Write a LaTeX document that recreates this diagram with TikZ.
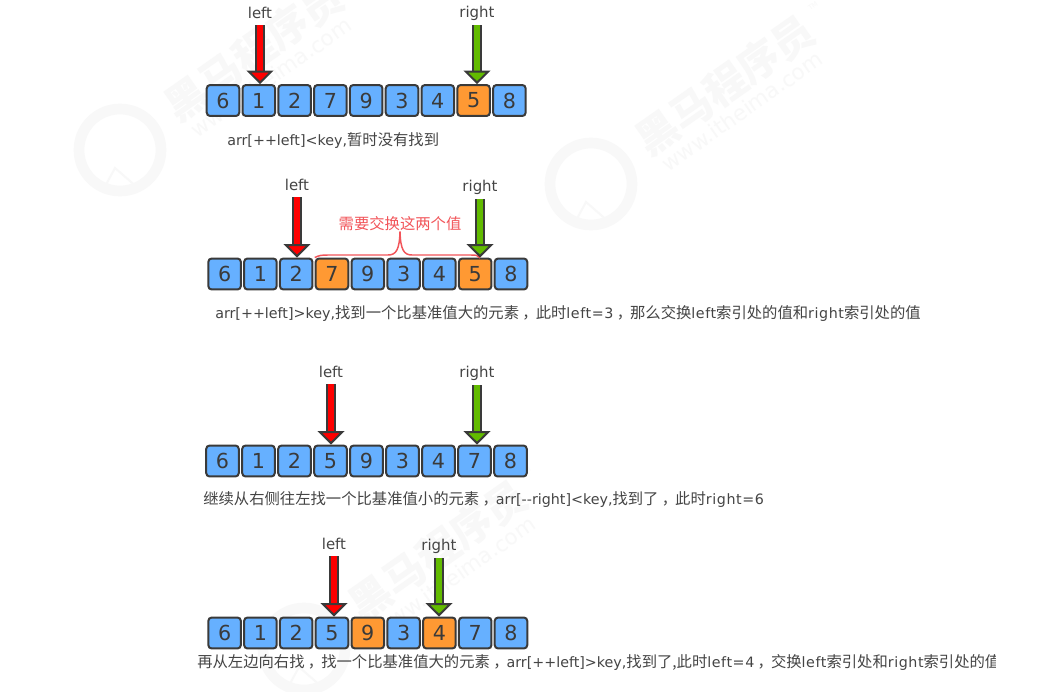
\documentclass[tikz,border=0pt]{standalone}
\usepackage{fontspec}
\setmainfont{DejaVu Sans}
\newfontfamily\cjkfont{Noto Sans CJK SC}
\newfontfamily\spacedfont[LetterSpace=4]{DejaVu Sans}
\newcommand{\zh}[1]{{\cjkfont\fontsize{11.5}{14}\selectfont #1}}
\newcommand{\zhcomma}{\kern2.5pt\zh{，}\kern-1.5pt}
\newcommand{\wide}[1]{{\spacedfont #1}}
\usetikzlibrary{arrows.meta,positioning,calc}
\definecolor{cellblue}{HTML}{66B0FF}
\definecolor{cellorange}{HTML}{FF9933}
\definecolor{edgegray}{HTML}{3A3A3A}
\definecolor{textgray}{HTML}{444444}
\definecolor{notered}{HTML}{F2555A}
\definecolor{markgray}{HTML}{F8F8F8}
\definecolor{pointergreen}{HTML}{62BB00}
\newcommand{\watermark}[2]{%
  \begin{scope}[shift={(#1,#2)},markgray]
    \draw[line width=8pt] (0,0) circle (41);
    \draw[line width=1.5pt] (-18,42) -- (-5,18) -- (18,38);
    \node[rotate=35,font=\cjkfont\bfseries\fontsize{31}{32}\selectfont] (mark-name-#1) at (134,-99) {黑马程序员};
    \node[rotate=35,font=\fontsize{16}{18}\selectfont] (mark-url-#1) at (151,-73) {www.itheima.com};
    \node[rotate=35,font=\fontsize{5}{6}\selectfont] (mark-tm-#1) at (222,-178) {TM};
  \end{scope}}

\begin{document}
\begin{tikzpicture}[x=.75pt,y=-.75pt,
  cell/.style={draw=edgegray,line width=1.5pt,rounded corners=2.5pt,fill=cellblue,
    minimum width=24.4pt,minimum height=23.2pt,inner sep=0pt,text=edgegray,
    font=\fontsize{15.5}{18}\selectfont},
  swapped/.style={cell,fill=cellorange},
  pointer/.style={inner sep=0pt,minimum height=18pt,text=textgray,
    font=\fontsize{11.2}{13}\selectfont},
  caption/.style={anchor=west,inner sep=0pt,text=textgray,
    font=\fontsize{10.7}{13}\selectfont},
  leftarrow/.style={draw=edgegray,line width=1.5pt,double=red,double distance=4.2pt,
    -{Triangle[length=10pt,width=20pt,line width=1.5pt,fill=red]}},
  rightarrow/.style={draw=edgegray,line width=1.5pt,double=pointergreen,double distance=4.2pt,
    -{Triangle[length=10pt,width=20pt,line width=1.5pt,fill=pointergreen]}},
  brace/.style={draw=notered,line width=1.1pt}
]
% Fixed bounds keep the page at the size of the screenshot.
\useasboundingbox (0,0) rectangle (1043,692);
\fill[white] (0,0) rectangle (1043,692);

\begin{scope}
  \clip (0,0) rectangle (1043,692);
  \watermark{120}{150}
  \watermark{591}{184}
  \watermark{304}{649}
\end{scope}

\begin{scope}[shift={(223,100.5)}]
  \node[cell] (a-0) at (0,0) {6};
  \node[cell] (a-1) at (35.8,0) {1};
  \node[cell] (a-2) at (71.6,0) {2};
  \node[cell] (a-3) at (107.4,0) {7};
  \node[cell] (a-4) at (143.2,0) {9};
  \node[cell] (a-5) at (179,0) {3};
  \node[cell] (a-6) at (214.8,0) {4};
  \node[swapped] (a-7) at (250.6,0) {5};
  \node[cell] (a-8) at (286.4,0) {8};
\end{scope}
\node[pointer] (a-left) at (260,13) {left};
\node[pointer] (a-right) at (477,13) {right};
\node[caption] (a-text) at (227,141) {arr[++left]<key,\zh{暂时没有找到}};
\draw[leftarrow] (a-left.south) -- (a-left |- a-1.north);
\draw[rightarrow] (a-right.south) -- (a-right |- a-7.north);

\begin{scope}[shift={(224.6,274)}]
  \node[cell] (b-0) at (0,0) {6};
  \node[cell] (b-1) at (35.8,0) {1};
  \node[cell] (b-2) at (71.6,0) {2};
  \node[swapped] (b-3) at (107.4,0) {7};
  \node[cell] (b-4) at (143.2,0) {9};
  \node[cell] (b-5) at (179,0) {3};
  \node[cell] (b-6) at (214.8,0) {4};
  \node[swapped] (b-7) at (250.6,0) {5};
  \node[cell] (b-8) at (286.4,0) {8};
\end{scope}
\node[pointer] (b-left) at (297,185) {left};
\node[pointer] (b-right) at (480,187) {right};
\node[inner sep=0pt,text=notered,font=\cjkfont\fontsize{11.5}{14}\selectfont] (b-note) at (400,224) {需要交换这两个值};
\node[caption] (b-text) at (215,313) {arr[++left]>key,\zh{找到一个比基准值大的元素}\zhcomma\zh{此时}\wide{left=3}\zhcomma\zh{那么交换}\wide{left}\zh{索引处的值和}\wide{right}\zh{索引处的值}};
\draw[brace] (b-3.north west) .. controls (319,255.5) and (321,255) .. (328,255) -- (388,255)
  .. controls (396,255) and (399.5,250) .. (b-note.south)
  .. controls (400.5,250) and (404,255) .. (412,255) -- (470,255)
  .. controls (476,255) and (478,255) .. (480,258);
\draw[leftarrow] (b-left.south) -- (b-left |- b-2.north);
\draw[rightarrow] (b-right.south) -- (b-right |- b-7.north);

\begin{scope}[shift={(222.5,461)}]
  \node[cell] (c-0) at (0,0) {6};
  \node[cell] (c-1) at (36,0) {1};
  \node[cell] (c-2) at (72,0) {2};
  \node[cell] (c-3) at (108,0) {5};
  \node[cell] (c-4) at (144,0) {9};
  \node[cell] (c-5) at (180,0) {3};
  \node[cell] (c-6) at (216,0) {4};
  \node[cell] (c-7) at (252,0) {7};
  \node[cell] (c-8) at (288,0) {8};
\end{scope}
\node[pointer] (c-left) at (331,372) {left};
\node[pointer] (c-right) at (477,373) {right};
\node[caption] (c-text) at (203,499.5) {\zh{继续从右侧往左找一个比基准值小的元素}\zhcomma arr[-{}-right]<key,\zh{找到了}\zhcomma\zh{此时}\wide{right=6}};
\draw[leftarrow] (c-left.south) -- (c-left |- c-3.north);
\draw[rightarrow] (c-right.south) -- (c-right |- c-7.north);

\begin{scope}[shift={(224.6,633)}]
  \node[cell] (d-0) at (0,0) {6};
  \node[cell] (d-1) at (35.8,0) {1};
  \node[cell] (d-2) at (71.6,0) {2};
  \node[cell] (d-3) at (107.4,0) {5};
  \node[swapped] (d-4) at (143.2,0) {9};
  \node[cell] (d-5) at (179,0) {3};
  \node[swapped] (d-6) at (214.8,0) {4};
  \node[cell] (d-7) at (250.6,0) {7};
  \node[cell] (d-8) at (286.4,0) {8};
\end{scope}
\node[pointer] (d-left) at (334,544) {left};
\node[pointer] (d-right) at (439,546) {right};
\draw[leftarrow] (d-left.south) -- (d-left |- d-3.north);
\draw[rightarrow] (d-right.south) -- (d-right |- d-6.north);
\begin{scope}
  \clip (0,640) rectangle (995,692);
  \node[caption] (d-text) at (197,662) {\zh{再从左边向右找}\zhcomma\zh{找一个比基准值大的元素}\zhcomma arr[++left]>key,\zh{找到了,此时}\wide{left=4}\zhcomma\zh{交换}\wide{left}\zh{索引处和}\wide{right}\zh{索引处的值}};
\end{scope}
\end{tikzpicture}
\end{document}
